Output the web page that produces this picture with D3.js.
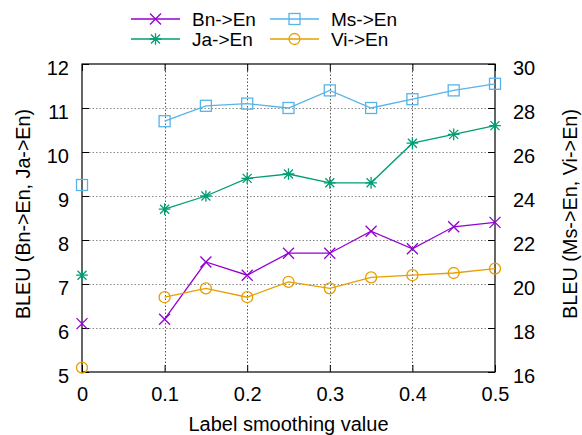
<!DOCTYPE html>
<html>
<head>
<meta charset="utf-8">
<script src="https://cdn.jsdelivr.net/npm/d3@7"></script>
<style>
  body { margin: 0; background: #fff; }
  svg { display: block; font-family: "Liberation Sans", Arial, sans-serif; }
</style>
</head>
<body>
<div id="chart"></div>
<script>
// smoothing values (the first point, 0, is not joined to the rest)
var smoothing = [0, 0.1, 0.15, 0.2, 0.25, 0.3, 0.35, 0.4, 0.45, 0.5];

// left axis series
var bnEn = [6.1, 6.2, 7.5, 7.2, 7.7, 7.7, 8.2, 7.8, 8.3, 8.4];
var jaEn = [7.2, 8.7, 9.0, 9.4, 9.5, 9.3, 9.3, 10.2, 10.4, 10.6];
// right axis series
var msEn = [24.5, 27.4, 28.1, 28.2, 28.0, 28.8, 28.0, 28.4, 28.8, 29.1];
var viEn = [16.2, 19.4, 19.8, 19.4, 20.1, 19.8, 20.3, 20.4, 20.5, 20.7];

var xTicks = [0, 0.1, 0.2, 0.3, 0.4, 0.5];
var leftTicks = [5, 6, 7, 8, 9, 10, 11, 12];
var rightTicks = [16, 18, 20, 22, 24, 26, 28, 30];

var width = 582, height = 435;
var margin = {left: 82, right: 87, top: 64, bottom: 63};

var svg = d3.select('#chart').append('svg')
    .attr('width', width)
    .attr('height', height);

var x = d3.scaleLinear().domain([0, 0.5]).range([margin.left, width - margin.right]);
var yLeft = d3.scaleLinear().domain([5, 12]).range([height - margin.bottom, margin.top]);
var yRight = d3.scaleLinear().domain([16, 30]).range([height - margin.bottom, margin.top]);

var x0 = x.range()[0], x1 = x.range()[1];
var yB = yLeft.range()[0], yT = yLeft.range()[1];

// grid
var grid = svg.append('g').attr('fill', 'none').attr('stroke-width', 1).attr('stroke-dasharray', '1.5,2');
grid.selectAll('line.gx')
    .data(xTicks.slice(1, -1))
    .enter().append('line')
    .attr('class', 'gx')
    .attr('stroke', '#555')
    .attr('x1', function(d) { return Math.round(x(d)) + 0.5; })
    .attr('x2', function(d) { return Math.round(x(d)) + 0.5; })
    .attr('y1', yT).attr('y2', yB);
grid.selectAll('line.gy')
    .data(leftTicks.slice(1, -1))
    .enter().append('line')
    .attr('class', 'gy')
    .attr('stroke', '#888')
    .attr('x1', x0).attr('x2', x1)
    .attr('y1', function(d) { return Math.round(yLeft(d)) + 0.5; })
    .attr('y2', function(d) { return Math.round(yLeft(d)) + 0.5; });

// axes
function styleAxis(g) {
    g.select('.domain').remove();
    g.selectAll('.tick line').attr('stroke', '#000');
    g.selectAll('.tick text').attr('fill', '#000').attr('font-size', 20);
}

svg.append('g')
    .attr('transform', 'translate(0,' + yB + ')')
    .call(d3.axisBottom(x).tickValues(xTicks).tickFormat(d3.format('')).tickSizeInner(-7).tickSizeOuter(0).tickPadding(15))
    .call(styleAxis);
svg.append('g')
    .attr('transform', 'translate(0,' + yT + ')')
    .call(d3.axisTop(x).tickValues(xTicks).tickFormat('').tickSizeInner(-7).tickSizeOuter(0))
    .call(styleAxis);
svg.append('g')
    .attr('transform', 'translate(' + x0 + ',0)')
    .call(d3.axisLeft(yLeft).tickValues(leftTicks).tickFormat(d3.format('d')).tickSizeInner(-7).tickSizeOuter(0).tickPadding(13))
    .call(styleAxis)
    .selectAll('.tick text').attr('dy', '0.5em');
svg.append('g')
    .attr('transform', 'translate(' + x1 + ',0)')
    .call(d3.axisRight(yRight).tickValues(rightTicks).tickFormat(d3.format('d')).tickSizeInner(-7).tickSizeOuter(0).tickPadding(18))
    .call(styleAxis)
    .selectAll('.tick text').attr('dy', '0.5em');

// frame
svg.append('rect')
    .attr('x', x0).attr('y', yT)
    .attr('width', x1 - x0).attr('height', yB - yT)
    .attr('fill', 'none').attr('stroke', '#000').attr('stroke-width', 1.2);

// axis titles
svg.append('text')
    .attr('x', (x0 + x1) / 2).attr('y', 431)
    .attr('text-anchor', 'middle').attr('font-size', 20)
    .text('Label smoothing value');
svg.append('text')
    .attr('transform', 'translate(30,214) rotate(-90)')
    .attr('text-anchor', 'middle').attr('font-size', 20)
    .attr('textLength', 210).attr('lengthAdjust', 'spacingAndGlyphs')
    .text('BLEU (Bn->En, Ja->En)');
svg.append('text')
    .attr('transform', 'translate(577,214) rotate(-90)')
    .attr('text-anchor', 'middle').attr('font-size', 20)
    .attr('textLength', 210).attr('lengthAdjust', 'spacingAndGlyphs')
    .text('BLEU (Ms->En, Vi->En)');

// markers
var symbols = {
    cross: function(g, s) {
        g.append('path').attr('d', 'M' + -s + ',' + -s + 'L' + s + ',' + s + 'M' + -s + ',' + s + 'L' + s + ',' + -s);
    },
    star: function(g, s) {
        g.append('path').attr('d', 'M' + -s + ',' + -s + 'L' + s + ',' + s + 'M' + -s + ',' + s + 'L' + s + ',' + -s +
            'M' + -s * 1.3 + ',0L' + s * 1.3 + ',0M0,' + -s * 1.3 + 'L0,' + s * 1.3);
    },
    square: function(g, s) {
        g.append('rect').attr('x', -s).attr('y', -s).attr('width', 2 * s).attr('height', 2 * s);
    },
    circle: function(g, s) {
        g.append('circle').attr('r', s);
    }
};

var series = [
    {name: 'Bn->En', values: bnEn, y: yLeft, color: '#9400d3', symbol: 'cross', size: 5.5},
    {name: 'Ja->En', values: jaEn, y: yLeft, color: '#009e73', symbol: 'star', size: 4.5},
    {name: 'Ms->En', values: msEn, y: yRight, color: '#56b4e9', symbol: 'square', size: 5.5},
    {name: 'Vi->En', values: viEn, y: yRight, color: '#e69f00', symbol: 'circle', size: 5.5}
];

series.forEach(function(s) {
    var pts = smoothing.map(function(v, i) { return {x: v, y: s.values[i], i: i}; });
    var line = d3.line()
        .x(function(d) { return x(d.x); })
        .y(function(d) { return s.y(d.y); });
    svg.append('path')
        .datum(pts.slice(1))
        .attr('fill', 'none')
        .attr('stroke', s.color)
        .attr('stroke-width', 1.3)
        .attr('d', line);
    pts.forEach(function(d) {
        var g = svg.append('g')
            .attr('transform', 'translate(' + x(d.x) + ',' + s.y(d.y) + ')')
            .attr('fill', 'none').attr('stroke', s.color).attr('stroke-width', 1.3);
        symbols[s.symbol](g, s.size);
    });
});

// legend (two columns, column-major order)
var legend = svg.append('g');
series.forEach(function(s, i) {
    var col = Math.floor(i / 2), row = i % 2;
    var lx = 131 + col * 139, ly = 19 + row * 20;
    var g = legend.append('g').attr('transform', 'translate(' + lx + ',' + ly + ')');
    g.append('line').attr('x1', 0).attr('x2', 49).attr('y1', 0).attr('y2', 0)
        .attr('stroke', s.color).attr('stroke-width', 1.3);
    var m = g.append('g').attr('transform', 'translate(24.5,0)')
        .attr('fill', 'none').attr('stroke', s.color).attr('stroke-width', 1.3);
    symbols[s.symbol](m, s.size);
    g.append('text').attr('x', 61).attr('y', 0).attr('dy', '0.35em')
        .attr('font-size', 19).text(s.name);
});
</script>
</body>
</html>
